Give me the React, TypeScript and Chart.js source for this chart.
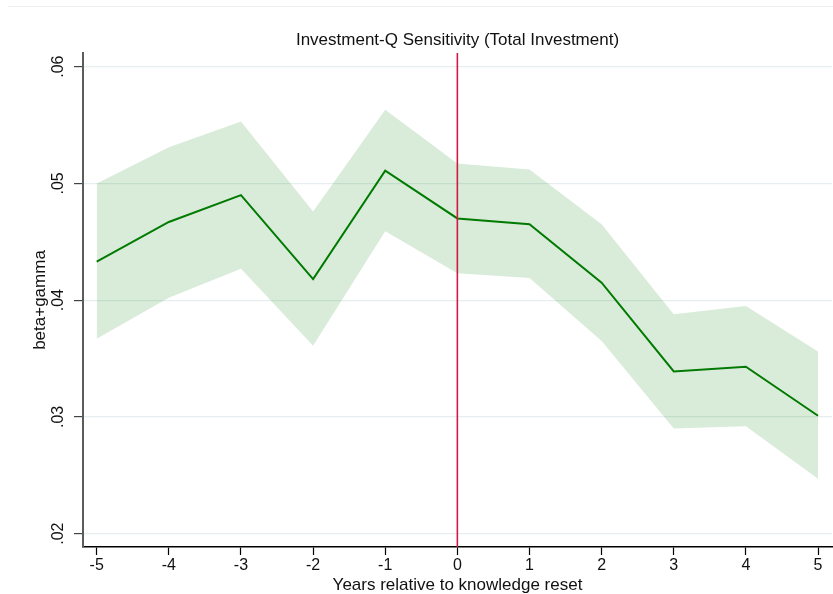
import React, { useEffect, useRef } from "react";
import { Chart, registerables } from "chart.js";

Chart.register(...registerables);

const TITLE = "Investment-Q Sensitivity (Total Investment)";
const X_TITLE = "Years relative to knowledge reset";
const Y_TITLE = "beta+gamma";

const YEARS = [-5, -4, -3, -2, -1, 0, 1, 2, 3, 4, 5];
const ESTIMATE = [0.0433, 0.0467, 0.049, 0.0418, 0.0511, 0.047, 0.0465, 0.0415, 0.0339, 0.0343, 0.0301];
const UPPER = [0.05, 0.0531, 0.0553, 0.0476, 0.0563, 0.0517, 0.0512, 0.0465, 0.0388, 0.0395, 0.0356];
const LOWER = [0.0367, 0.0402, 0.0427, 0.0361, 0.0459, 0.0423, 0.0419, 0.0365, 0.029, 0.0292, 0.0247];

const Y_TICKS = [0.02, 0.03, 0.04, 0.05, 0.06];
const Y_TICK_LABELS = [".02", ".03", ".04", ".05", ".06"];
const X_TICKS = [-5, -4, -3, -2, -1, 0, 1, 2, 3, 4, 5];
const X_TICK_LABELS = ["-5", "-4", "-3", "-2", "-1", "0", "1", "2", "3", "4", "5"];

const EVENT_YEAR = 0;
const X_MIN = -5.19;
const X_MAX = 5.194;
const Y_MIN = 0.01886;
const Y_MAX = 0.06117;

const FONT = '"Liberation Sans", Arial, sans-serif';

export default function App() {
  const canvasRef = useRef<HTMLCanvasElement | null>(null);

  useEffect(() => {
    const canvas = canvasRef.current;
    if (!canvas) return;

    const titlePlugin = {
      id: "plotTitle",
      afterDraw(chart: any) {
        const { ctx, chartArea } = chart;
        ctx.save();
        ctx.font = `17px ${FONT}`;
        ctx.fillStyle = "#111";
        ctx.textAlign = "center";
        ctx.textBaseline = "alphabetic";
        ctx.fillText(TITLE, (chartArea.left + chartArea.right) / 2, 45);
        ctx.restore();
      },
    };

    const chart = new Chart(canvas, {
      type: "line",
      data: {
        datasets: [
          {
            label: "lower",
            data: YEARS.map((x, i) => ({ x, y: LOWER[i] })),
            borderWidth: 0,
            borderColor: "rgba(0,0,0,0)",
            pointRadius: 0,
            fill: false,
            order: 4,
          },
          {
            label: "upper",
            data: YEARS.map((x, i) => ({ x, y: UPPER[i] })),
            borderWidth: 0,
            borderColor: "rgba(0,0,0,0)",
            backgroundColor: "rgba(0,128,0,0.15)",
            pointRadius: 0,
            fill: "-1",
            order: 3,
          },
          {
            label: "estimate",
            data: YEARS.map((x, i) => ({ x, y: ESTIMATE[i] })),
            borderColor: "#007a00",
            borderWidth: 2,
            pointRadius: 0,
            fill: false,
            order: 1,
          },
          {
            label: "event",
            data: [
              { x: EVENT_YEAR, y: Y_MIN },
              { x: EVENT_YEAR, y: Y_MAX },
            ],
            borderColor: "#d01a44",
            borderWidth: 1.6,
            pointRadius: 0,
            fill: false,
            order: 0,
          },
        ],
      },
      options: {
        animation: false,
        responsive: false,
        devicePixelRatio: 1,
        layout: { padding: { top: 53, right: 1, bottom: 0, left: 0 } },
        plugins: {
          legend: { display: false },
          title: { display: false },
          tooltip: { enabled: false },
        },
        scales: {
          x: {
            type: "linear",
            min: X_MIN,
            max: X_MAX,
            afterBuildTicks: (scale: any) => {
              scale.ticks = X_TICKS.map((v) => ({ value: v }));
            },
            afterFit: (scale: any) => {
              scale.height = 47;
            },
            ticks: {
              autoSkip: false,
              maxRotation: 0,
              minRotation: 0,
              padding: 1,
              color: "#111",
              font: { family: FONT, size: 16 },
              callback: (_v: any, i: number) => X_TICK_LABELS[i],
            },
            grid: {
              drawOnChartArea: false,
              drawTicks: true,
              tickLength: 8,
              tickColor: "#000",
              tickWidth: 1.2,
            },
            border: { display: true, color: "#000", width: 1.5 },
            title: {
              display: true,
              text: X_TITLE,
              color: "#111",
              font: { family: FONT, size: 17, lineHeight: 1 },
              padding: { top: 0, bottom: 0 },
            },
          },
          y: {
            type: "linear",
            min: Y_MIN,
            max: Y_MAX,
            afterBuildTicks: (scale: any) => {
              scale.ticks = Y_TICKS.map((v) => ({ value: v }));
            },
            afterFit: (scale: any) => {
              scale.width = 83;
            },
            ticks: {
              autoSkip: false,
              minRotation: 90,
              maxRotation: 90,
              crossAlign: "center",
              padding: 4.4,
              color: "#111",
              font: { family: FONT, size: 16 },
              callback: (_v: any, i: number) => Y_TICK_LABELS[i],
            },
            grid: {
              drawOnChartArea: true,
              color: "#e5eef0",
              lineWidth: 1.2,
              drawTicks: true,
              tickLength: 9,
              tickColor: "#444",
              tickWidth: 1.2,
            },
            border: { display: true, color: "#5c5c5c", width: 2 },
            title: {
              display: true,
              text: Y_TITLE,
              color: "#111",
              font: { family: FONT, size: 17, lineHeight: 1 },
              padding: { top: 32.3, bottom: 0 },
            },
          },
        },
      },
      plugins: [titlePlugin],
    });

    return () => {
      chart.destroy();
    };
  }, []);

  return (
    <div style={{ position: "fixed", left: 0, top: 0, width: 833, height: 594, background: "#fff" }}>
      <div
        style={{
          position: "absolute",
          left: 8,
          top: 6,
          width: 825,
          height: 1,
          background: "#eeeeee",
        }}
      />
      <canvas
        ref={canvasRef}
        width={833}
        height={594}
        style={{ position: "absolute", left: 0, top: 0, width: 833, height: 594 }}
      />
    </div>
  );
}
